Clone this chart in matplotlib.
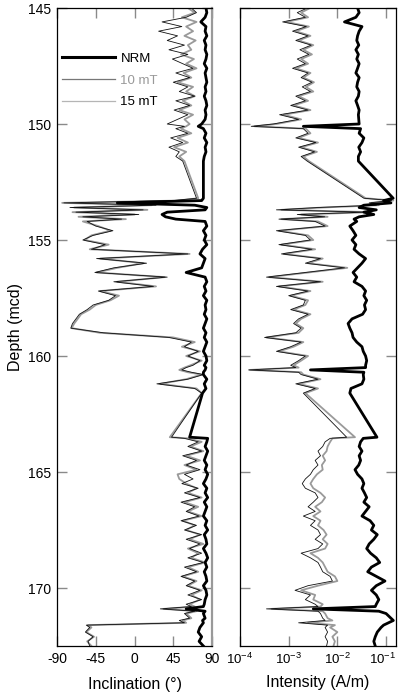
import math
import matplotlib
matplotlib.use("Agg")
import matplotlib.pyplot as plt
from matplotlib.lines import Line2D
from matplotlib.ticker import FixedLocator, FuncFormatter, NullLocator
from matplotlib.transforms import ScaledTranslation

plt.rcParams['font.family'] = ['Liberation Sans', 'DejaVu Sans']
plt.rcParams['mathtext.default'] = 'regular'
plt.rcParams['axes.unicode_minus'] = False

# ---------------- depth samples (mcd) ----------------
depth_A = [145.0, 145.2, 145.4, 145.6, 145.8, 146.0, 146.2, 146.4, 146.6, 146.8,
           147.0, 147.2, 147.4, 147.6, 147.8, 148.0, 148.2, 148.4, 148.6, 148.8,
           149.0, 149.2, 149.4, 149.6, 149.8, 150.0, 150.1, 150.2, 150.4, 150.6,
           150.8, 151.0, 151.2, 151.4, 151.6]
depth_B = [153.2, 153.3, 153.4, 153.5, 153.6, 153.7, 153.8, 153.9, 154.0, 154.1,
           154.2, 154.4, 154.6, 154.8, 155.0, 155.2, 155.4, 155.6, 155.8, 156.0,
           156.2, 156.4, 156.6, 156.8, 157.0, 157.2, 157.4, 157.6, 157.8, 158.0,
           158.2, 158.4, 158.6, 158.8, 159.0, 159.2, 159.4, 159.6, 159.8, 160.0,
           160.2, 160.4, 160.5, 160.6, 160.7, 160.8, 161.0, 161.2, 161.4, 161.6]
depth_C = [163.5, 163.55, 163.7, 163.9, 164.1, 164.3, 164.5, 164.7, 164.9, 165.1,
           165.3, 165.5, 165.7, 165.9, 166.1, 166.3, 166.5, 166.7, 166.9, 167.1,
           167.3, 167.5, 167.7, 167.9, 168.1, 168.3, 168.5, 168.7, 168.9, 169.1,
           169.3, 169.5, 169.7, 169.9, 170.1, 170.3, 170.5, 170.7, 170.8, 170.9,
           171.0, 171.1, 171.3, 171.4, 171.5, 171.6, 171.7, 171.9, 172.1, 172.3, 172.5]

# ---------------- inclination (deg) ----------------
inc_nrm_A = [83, 84, 82, 77, 83, 82, 84, 81, 83, 82, 84, 83, 81, 84, 82, 83, 84, 82, 83, 81,
             83, 84, 82, 83, 82, 78, 74, 80, 83, 81, 84, 82, 83, 81, 80]
inc_10_A = [62, 70, 55, 72, 60, 68, 58, 71, 62, 66, 54, 69, 60, 72, 57, 66, 50, 68, 60, 70,
            56, 66, 52, 68, 58, 64, 60, 54, 66, 50, 62, 46, 60, 52, 58]
inc_15_A = [66, 72, 60, 32, 55, 28, 50, 38, 58, 40, 62, 44, 56, 68, 48, 64, 45, 62, 52, 70,
            48, 64, 46, 62, 50, 38, 58, 48, 62, 42, 56, 40, 52, 48, 56]

inc_nrm_B = [80, 78, -20, 70, 84, 82, 38, 32, 36, 48, 82, 84, 80, 83, 81, 84, 79, 76, 82, 80,
             78, 60, 82, 84, 81, 83, 80, 84, 82, 83, 81, 84, 82, 80, 83, 81, 84, 82, 80, 83,
             84, 81, 83, 82, 80, 80, 84, 81, 83, 79]
inc_10_B = [74, 50, -84, 20, -70, 15, -72, 0, -65, -10, -60, -42, -28, -50, -58, -30, -52, 64, -40, 10,
            -20, -44, 35, -20, 25, -40, -18, -28, -45, -52, -62, -66, -70, -73, -40, 45, 70, 55, 76, 60,
            78, 65, 58, 52, 62, 78, 60, 30, 72, 78]
inc_15_B = [72, 45, -82, 25, -75, 10, -68, 5, -60, -15, -55, -45, -25, -48, -60, -34, -50, 62, -44, 14,
            -24, -46, 38, -24, 22, -42, -22, -30, -48, -55, -64, -68, -72, -74, -36, 40, 66, 58, 74, 62,
            76, 68, 60, 55, 66, 80, 62, 26, 70, 78]

inc_nrm_C = [64, 85, 84, 82, 85, 83, 81, 84, 82, 85, 83, 80, 84, 82, 85, 81, 84, 82, 80, 84,
             82, 85, 81, 83, 84, 80, 83, 85, 82, 84, 81, 83, 84, 80, 83, 84, 82, 81, 80, 60,
             82, 80, 82, 79, 80, 78, 76, 74, 78, 75, 80]
inc_10_C = [41, 62, 78, 65, 80, 60, 76, 58, 72, 50, 52, 60, 72, 62, 78, 58, 74, 62, 78, 56,
            70, 60, 76, 64, 80, 62, 74, 66, 82, 62, 74, 56, 72, 62, 78, 66, 76, 64, 70, 34,
            72, 60, 66, 56, 60, -54, -50, -56, -47, -55, -50]
inc_15_C = [43, 58, 74, 62, 78, 56, 72, 60, 76, 58, 68, 55, 74, 58, 76, 54, 70, 60, 75, 54,
            72, 58, 78, 60, 76, 64, 78, 62, 80, 58, 72, 54, 70, 60, 76, 62, 78, 60, 66, 30,
            70, 58, 64, 52, 58, -56, -52, -57, -48, -54, -52]

# ---------------- intensity (A/m) ----------------
int_nrm_A = [0.026, 0.028, 0.024, 0.014, 0.032, 0.028, 0.026, 0.025, 0.0275, 0.024,
             0.027, 0.025, 0.028, 0.026, 0.024, 0.028, 0.026, 0.025, 0.028, 0.027,
             0.024, 0.026, 0.028, 0.027, 0.0275, 0.028, 0.002, 0.030, 0.028, 0.035,
             0.032, 0.0275, 0.030, 0.027, 0.027]
int_10_A = [2.75e-3, 1.8e-3, 2.5e-3, 8.9e-4, 2.6e-3, 1.4e-3, 2.8e-3, 1.6e-3, 3.2e-3, 2.0e-3,
            3.0e-3, 1.8e-3, 2.5e-3, 1.4e-3, 2.8e-3, 2.0e-3, 3.3e-3, 2.25e-3, 3.2e-3, 1.6e-3,
            2.5e-3, 1.26e-3, 2.8e-3, 7.9e-4, 1.8e-3, 5.6e-4, 2.0e-4, 2.25e-3, 2.8e-3, 1.6e-3,
            4.0e-3, 1.8e-3, 3.8e-3, 2.0e-3, 2.6e-3]
int_15_A = [2.4e-3, 1.5e-3, 2.2e-3, 7.5e-4, 2.3e-3, 1.2e-3, 2.5e-3, 1.4e-3, 2.9e-3, 1.7e-3,
            2.6e-3, 1.5e-3, 2.2e-3, 1.2e-3, 2.5e-3, 1.8e-3, 3.0e-3, 1.9e-3, 2.8e-3, 1.4e-3,
            2.2e-3, 1.1e-3, 2.5e-3, 6.5e-4, 1.6e-3, 4.8e-4, 1.7e-4, 2.0e-3, 2.5e-3, 1.4e-3,
            3.6e-3, 1.6e-3, 3.4e-3, 1.8e-3, 2.4e-3]

int_nrm_B = [0.14, 0.089, 0.126, 0.035, 0.028, 0.063, 0.035, 0.056, 0.028, 0.022,
             0.025, 0.018, 0.021, 0.024, 0.020, 0.024, 0.022, 0.028, 0.038, 0.032,
             0.026, 0.021, 0.025, 0.022, 0.032, 0.038, 0.035, 0.040, 0.036, 0.038,
             0.033, 0.020, 0.0166, 0.018, 0.020, 0.021, 0.025, 0.032, 0.034, 0.038,
             0.040, 0.038, 0.038, 0.0028, 0.035, 0.034, 0.035, 0.032, 0.019, 0.018]
int_10_B = [0.038, 0.141, 0.050, 0.071, 5.0e-3, 7.1e-4, 0.050, 1.8e-3, 6.3e-3, 7.1e-4,
            4.0e-3, 6.3e-3, 6.3e-4, 2.5e-3, 3.2e-3, 7.1e-4, 3.5e-3, 7.9e-4, 5.0e-3, 2.5e-3,
            0.016, 2.5e-3, 4.0e-4, 5.0e-3, 6.3e-4, 2.8e-3, 1.1e-3, 2.5e-3, 2.2e-3, 1.26e-3,
            2.8e-3, 1.8e-3, 1.4e-3, 2.0e-3, 1.6e-3, 3.5e-4, 2.0e-3, 1.26e-3, 6.3e-4, 2.5e-3,
            1.8e-3, 1.26e-3, 1.6e-3, 1.6e-4, 1.8e-3, 2.0e-3, 4.5e-3, 1.6e-3, 4.0e-3, 2.2e-3]
int_15_B = [0.035, 0.13, 0.045, 0.063, 4.0e-3, 5.6e-4, 0.040, 1.5e-3, 5.5e-3, 6.3e-4,
            3.5e-3, 5.6e-3, 5.6e-4, 2.2e-3, 2.8e-3, 6.3e-4, 3.0e-3, 7.1e-4, 4.5e-3, 2.2e-3,
            0.014, 2.2e-3, 3.5e-4, 4.5e-3, 5.6e-4, 2.5e-3, 1.0e-3, 2.2e-3, 2.0e-3, 1.1e-3,
            2.5e-3, 1.6e-3, 1.26e-3, 1.8e-3, 1.4e-3, 3.2e-4, 1.8e-3, 1.1e-3, 5.6e-4, 2.2e-3,
            1.6e-3, 1.1e-3, 1.4e-3, 1.5e-4, 1.6e-3, 1.8e-3, 4.0e-3, 1.4e-3, 3.5e-3, 2.0e-3]

int_nrm_C = [0.065, 0.034, 0.030, 0.028, 0.032, 0.028, 0.030, 0.0275, 0.023, 0.026,
             0.032, 0.035, 0.032, 0.036, 0.040, 0.035, 0.045, 0.038, 0.032, 0.047,
             0.056, 0.050, 0.066, 0.056, 0.045, 0.040, 0.048, 0.063, 0.074, 0.050,
             0.042, 0.063, 0.095, 0.063, 0.050, 0.063, 0.071, 0.063, 0.060, 0.0032,
             0.071, 0.100, 0.126, 0.141, 0.112, 0.089, 0.079, 0.066, 0.060, 0.056, 0.060]
int_10_C = [0.023, 7.9e-3, 7.1e-3, 6.3e-3, 6.0e-3, 5.0e-3, 5.6e-3, 4.8e-3, 5.0e-3, 3.8e-3,
            3.2e-3, 2.8e-3, 3.2e-3, 4.5e-3, 5.6e-3, 4.8e-3, 3.5e-3, 4.5e-3, 3.2e-3, 4.5e-3,
            4.0e-3, 5.2e-3, 6.0e-3, 5.0e-3, 6.3e-3, 5.6e-3, 2.8e-3, 4.0e-3, 5.0e-3, 5.6e-3,
            6.3e-3, 8.9e-3, 0.010, 4.0e-3, 1.8e-3, 3.5e-3, 3.2e-3, 5.0e-3, 4.5e-3, 4.5e-4,
            5.0e-3, 5.6e-3, 6.3e-3, 7.9e-3, 2.5e-3, 8.9e-3, 7.1e-3, 0.010, 7.9e-3, 8.9e-3, 8.3e-3]
int_15_C = [0.0155, 7.1e-3, 5.6e-3, 5.0e-3, 4.0e-3, 4.5e-3, 3.5e-3, 4.0e-3, 3.2e-3, 2.8e-3,
            2.2e-3, 1.9e-3, 2.2e-3, 3.5e-3, 4.0e-3, 3.2e-3, 2.5e-3, 3.5e-3, 2.0e-3, 3.5e-3,
            2.8e-3, 4.0e-3, 4.5e-3, 3.5e-3, 5.0e-3, 4.0e-3, 1.8e-3, 2.8e-3, 4.0e-3, 4.5e-3,
            5.0e-3, 7.1e-3, 7.9e-3, 2.5e-3, 1.35e-3, 2.8e-3, 2.2e-3, 3.5e-3, 4.0e-3, 3.5e-4,
            4.0e-3, 4.5e-3, 5.0e-3, 5.6e-3, 1.6e-3, 6.3e-3, 5.6e-3, 6.3e-3, 5.6e-3, 6.3e-3, 6.0e-3]

depth_ticks = [145, 150, 155, 160, 165, 170]
inc_ticks = [-90, -45, 0, 45, 90]
int_ticks = [1e-4, 1e-3, 1e-2, 1e-1]

series_names = ['NRM', '10 mT', '15 mT']

depth = depth_A + depth_B + depth_C
inc_nrm = inc_nrm_A + inc_nrm_B + inc_nrm_C
inc_10 = inc_10_A + inc_10_B + inc_10_C
inc_15 = inc_15_A + inc_15_B + inc_15_C
int_nrm = int_nrm_A + int_nrm_B + int_nrm_C
int_10 = int_10_A + int_10_B + int_10_C
int_15 = int_15_A + int_15_B + int_15_C

# ---------------- figure ----------------
W, H = 398, 692
fig = plt.figure(figsize=(W / 100, H / 100), dpi=100)
ax1 = fig.add_axes([57 / W, 1 - 646 / H, 155 / W, 638 / H])
ax2 = fig.add_axes([240 / W, 1 - 646 / H, 156 / W, 638 / H])

c10 = '#9a9a9a'
for ax, v10, v15, vn in [(ax1, inc_10, inc_15, inc_nrm), (ax2, int_10, int_15, int_nrm)]:
    ax.plot(v10, depth, color=c10, lw=1.3, zorder=2)
    ax.plot(v15, depth, color='#111111', lw=0.6, zorder=3)
    ax.plot(vn, depth, color='black', lw=2.0, zorder=4, solid_joinstyle='round')
    ax.set_ylim(172.5, 145)
    ax.tick_params(direction='in', length=7, width=1.0, color='#8a8a8a',
                   top=True, right=True, labelsize=10, pad=4)
    for s in ax.spines.values():
        s.set_linewidth(0.9)

ax1.set_xlim(-90, 90)
ax1.xaxis.set_major_locator(FixedLocator(inc_ticks))
ax1.yaxis.set_major_locator(FixedLocator(depth_ticks))
ax1.spines['right'].set_color('#999999')
ax1.spines['right'].set_linewidth(1.6)
ax1.set_xlabel('Inclination (°)', fontsize=11.5, labelpad=8)
ax1.set_ylabel('Depth (mcd)', fontsize=11.5, labelpad=4)

ax2.set_xscale('log')
ax2.set_xlim(1e-4, 0.16)
ax2.xaxis.set_major_locator(FixedLocator(int_ticks))
ax2.xaxis.set_minor_locator(NullLocator())
ax2.xaxis.set_major_formatter(FuncFormatter(lambda v, p: r'$10^{-%d}$' % round(-math.log10(v))))
ax2.yaxis.set_major_locator(FixedLocator(depth_ticks))
ax2.tick_params(labelleft=False)
ax2.tick_params(axis='x', labelsize=9.5)
ax2.set_xlabel('Intensity (A/m)', fontsize=11.5, labelpad=6)

# nudge the last decade label slightly left so it stays on the canvas
fig.canvas.draw()
last_tick = ax2.xaxis.get_major_ticks()[-1]
last_tick.label1.set_transform(last_tick.label1.get_transform()
                               + ScaledTranslation(-4 / 100, 0, fig.dpi_scale_trans))

handles = [Line2D([], [], color='black', lw=2.2),
           Line2D([], [], color='#777777', lw=0.9),
           Line2D([], [], color='#b5b5b5', lw=0.9)]
leg = ax1.legend(handles, series_names, loc='upper left', bbox_to_anchor=(0.035, 0.93),
                 frameon=False, fontsize=9.5, handlelength=4.0, handletextpad=0.4,
                 labelspacing=0.72, borderpad=0, borderaxespad=0)
leg.get_texts()[1].set_color('#999999')

fig.savefig('out.png', dpi=100)
